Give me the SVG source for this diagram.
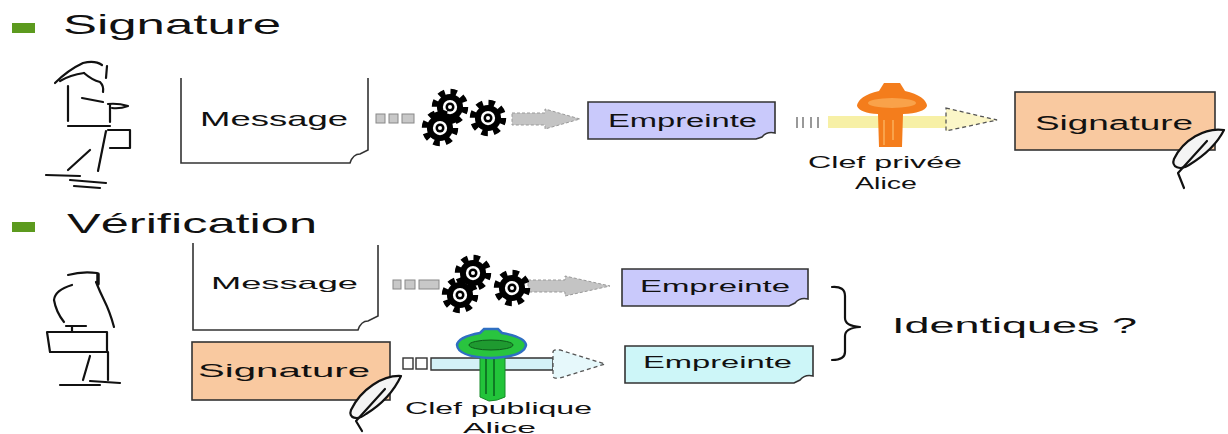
<svg xmlns="http://www.w3.org/2000/svg" width="1228" height="434" viewBox="0 0 1228 434">
  <style>
    .txt { font-family: "Liberation Sans", Arial, sans-serif; fill: #111; }
    .title { font-size: 28px; }
    .sketch { fill: none; stroke: #111; stroke-width: 2.2; stroke-linecap: round; stroke-linejoin: round; }
    .doc { fill: none; stroke: #333; stroke-width: 1.6; }
    .box { stroke: #333; stroke-width: 1.6; }
    .lav { fill: #c9c9fb; }
    .cyan { fill: #cdf6f8; }
    .peach { fill: #f9c9a0; }
    .bullet { fill: #5c9a1e; }
    .sq { fill: #c8c8c8; stroke: #888; stroke-width: 1; }
    .feather { fill: #f4f4f4; stroke: #111; stroke-width: 2.2; stroke-linejoin: round; }
  </style>
  <defs>
    <!-- cog wheel: teeth ring, body, white hub ring -->
    <symbol id="gear" viewBox="-16 -16 32 32" overflow="visible">
      <circle r="12.6" fill="none" stroke="#000" stroke-width="5.5" stroke-dasharray="5.2 4.7"/>
      <circle r="11" fill="#000"/>
      <circle r="6" fill="#fff"/>
      <circle r="3.8" fill="#000"/>
      <circle r="1.7" fill="#fff"/>
    </symbol>
  </defs>

  <rect width="1228" height="434" fill="#fff"/>

  <!-- section titles -->
  <g id="title-signature">
    <rect class="bullet" x="12" y="23" width="23" height="10"/>
    <text class="txt title" x="63" y="34" textLength="218" lengthAdjust="spacingAndGlyphs">Signature</text>
  </g>
  <g id="title-verification">
    <rect class="bullet" x="12" y="222" width="23" height="10"/>
    <text class="txt title" x="67" y="233" textLength="250" lengthAdjust="spacingAndGlyphs">Vérification</text>
  </g>

  <!-- sender: woman sketch -->
  <g id="alice" class="sketch">
    <path d="M55,83 Q68,70 83,63 Q95,60 102,65"/>
    <path d="M60,81 Q70,75 84,73"/>
    <path d="M84,73 Q92,80 100,82 Q104,86 103,92"/>
    <path d="M107,66 L106,78"/>
    <path d="M68,86 V121"/>
    <path d="M68,126 H110"/>
    <path d="M110,105 V122"/>
    <path d="M82,98 L103,102"/>
    <path d="M108,104 Q118,103 128,106 Q120,109 112,108"/>
    <path d="M108,130 H130 V148 H110"/>
    <path d="M106,131 L98,171"/>
    <path d="M90,150 L68,170"/>
    <path d="M46,175 L80,176"/>
    <path d="M70,180 L106,183"/>
    <path d="M74,186 L100,188"/>
  </g>

  <!-- receiver: man with briefcase -->
  <g id="bob" class="sketch">
    <path d="M68,275 Q82,271 97,273"/>
    <path d="M98,274 V284" stroke-width="3.5"/>
    <path d="M72,285 Q55,290 54,300 Q56,312 64,322"/>
    <path d="M96,282 Q100,292 104,300 Q110,312 114,327"/>
    <path d="M66,326 H86 M72,326 V332"/>
    <path d="M47,332 H107 V352 H50 Z"/>
    <path d="M90,356 L83,380"/>
    <path d="M108,352 V380"/>
    <path d="M60,385 H100"/>
    <path d="M90,381 L120,383"/>
  </g>

  <!-- documents -->
  <g id="message-1">
    <path class="doc" d="M181,78 V163 H350 Q353,154 360,154 L368,150 V78"/>
    <text class="txt" x="200" y="126" font-size="21" textLength="148" lengthAdjust="spacingAndGlyphs">Message</text>
  </g>
  <g id="empreinte-1">
    <path class="box lav" d="M588,102 H775 V133 Q767,131 762,137 L756,139 H588 Z"/>
    <text class="txt" x="608" y="127" font-size="18" textLength="149" lengthAdjust="spacingAndGlyphs">Empreinte</text>
  </g>
  <g id="signature-1">
    <rect class="box peach" x="1015" y="92" width="200" height="58"/>
    <text class="txt" x="1035" y="130" font-size="20" textLength="158" lengthAdjust="spacingAndGlyphs">Signature</text>
    <path class="feather" d="M1224,130 C1205,127 1183,140 1174,159 C1171,167 1180,171 1189,165 C1202,157 1216,146 1224,130 Z"/>
    <path class="sketch" d="M1207,141 L1178,173 L1184,188"/>
  </g>

  <g id="message-2">
    <path class="doc" d="M193,243 V330 H358 Q361,321 368,321 L378,316 V245"/>
    <text class="txt" x="211" y="289" font-size="17" textLength="147" lengthAdjust="spacingAndGlyphs">Message</text>
  </g>
  <g id="signature-2">
    <rect class="box peach" x="192" y="342" width="198" height="58"/>
    <text class="txt" x="198" y="377" font-size="19" textLength="172" lengthAdjust="spacingAndGlyphs">Signature</text>
    <path class="feather" d="M401,376 C383,375 361,389 351,410 C348,418 357,421 366,414 C379,406 393,393 401,376 Z"/>
    <path class="sketch" d="M385,389 L356,421 L362,431"/>
  </g>
  <g id="empreinte-2">
    <path class="box lav" d="M622,269 H808 V299 Q800,297 795,303 L789,306 H622 Z"/>
    <text class="txt" x="640" y="292" font-size="17" textLength="150" lengthAdjust="spacingAndGlyphs">Empreinte</text>
  </g>
  <g id="empreinte-3">
    <path class="box cyan" d="M625,346 H813 V376 Q805,374 800,380 L794,383 H625 Z"/>
    <text class="txt" x="643" y="368" font-size="16" textLength="149" lengthAdjust="spacingAndGlyphs">Empreinte</text>
  </g>

  <g id="identiques">
    <path class="sketch" stroke-width="1.6" d="M832,287 Q845,286 845,296 V318 Q845,326 860,327 Q845,328 845,336 V352 Q845,360 832,360"/>
    <text class="txt" x="892" y="333" font-size="22" textLength="245" lengthAdjust="spacingAndGlyphs">Identiques ?</text>
  </g>

  <!-- processing steps: hash and key operations -->
  <g id="connectors">
    <!-- hash, top row -->
    <g id="hash-1">
      <rect class="sq" x="376" y="114" width="9" height="9"/>
      <rect class="sq" x="389" y="114" width="9" height="9"/>
      <rect class="sq" x="402" y="114" width="12" height="9"/>
      <path d="M512,113 H545 V109 L580,119 L545,129 V125 H512 Z" fill="#c4c4c4" stroke="#999" stroke-width="1" stroke-dasharray="3 2"/>
      <use href="#gear" x="431" y="88" width="38" height="38"/>
      <use href="#gear" x="421" y="109" width="38" height="38"/>
      <use href="#gear" x="469" y="99" width="38" height="38"/>
    </g>
    <!-- key signing, top row -->
    <g id="sign-key">
      <path d="M797,117 V128 M803,117 V128 M811,117 V128 M818,117 V128" stroke="#999" stroke-width="2"/>
      <rect x="828" y="116" width="118" height="12" fill="#f7f0a6"/>
      <path d="M946,108 L997,120 L946,131 Z" fill="#fbf6c8" stroke="#555" stroke-width="1.3" stroke-dasharray="4 3"/>
      <path d="M884,83 H900 L905,91 Q926,96 927,106 Q924,113 903,114 L902,147 H879 L878,114 Q860,113 857,106 Q858,96 879,91 Z" fill="#f47d1c"/>
      <ellipse cx="892" cy="103" rx="24" ry="5" fill="#f9a24a"/>
      <path d="M884,120 V145 M893,120 V140" stroke="#f9a24a" stroke-width="2"/>
    </g>
    <!-- hash, bottom row -->
    <g id="hash-2">
      <rect class="sq" x="393" y="280" width="8" height="9" fill="#ddd" stroke="#555"/>
      <rect class="sq" x="405" y="280" width="10" height="9" fill="#ddd" stroke="#555"/>
      <rect class="sq" x="419" y="280" width="20" height="9" fill="#ddd" stroke="#555"/>
      <path d="M528,280 H565 V276 L610,286 L565,296 V292 H528 Z" fill="#c4c4c4" stroke="#999" stroke-width="1" stroke-dasharray="3 2"/>
      <use href="#gear" x="454" y="254" width="38" height="38"/>
      <use href="#gear" x="441" y="276" width="38" height="38"/>
      <use href="#gear" x="493" y="269" width="38" height="38"/>
    </g>
    <!-- key verification, bottom row -->
    <g id="verify-key">
      <rect x="403" y="358" width="10" height="11" fill="#fff" stroke="#333" stroke-width="1.4"/>
      <rect x="416" y="358" width="11" height="11" fill="#fff" stroke="#333" stroke-width="1.4"/>
      <path d="M431,358 H553 V370 H431 Z" fill="#d3f1f7" stroke="#333" stroke-width="1.4"/>
      <path d="M553,352 Q553,349 560,350 L605,364 L560,378 Q553,379 553,376 Z" fill="#e6f8fb" stroke="#555" stroke-width="1.3" stroke-dasharray="4 3"/>
      <path d="M480,352 H505 V397 Q497,401 489,401 L480,397 Z" fill="#22c43a" stroke="#178a28" stroke-width="1"/>
      <path d="M486,356 V394 M494,356 V396" stroke="#0f7a24" stroke-width="2"/>
      <path d="M484,329 H498 L502,333 Q525,337 526,345 Q524,357 491,358 Q458,357 457,345 Q458,337 480,333 Z" fill="#29c43f" stroke="#2f6fc2" stroke-width="2.5"/>
      <ellipse cx="491" cy="345" rx="22" ry="5" fill="#1f9a30" stroke="#0d5a1a" stroke-width="1"/>
    </g>
  </g>

  <!-- key captions -->
  <g id="key-labels">
    <text class="txt" x="808" y="168" font-size="17" textLength="154" lengthAdjust="spacingAndGlyphs">Clef privée</text>
    <text class="txt" x="855" y="189" font-size="17" textLength="62" lengthAdjust="spacingAndGlyphs">Alice</text>
    <text class="txt" x="405" y="414" font-size="16" textLength="187" lengthAdjust="spacingAndGlyphs">Clef publique</text>
    <text class="txt" x="463" y="433" font-size="14" textLength="73" lengthAdjust="spacingAndGlyphs">Alice</text>
  </g>
</svg>
